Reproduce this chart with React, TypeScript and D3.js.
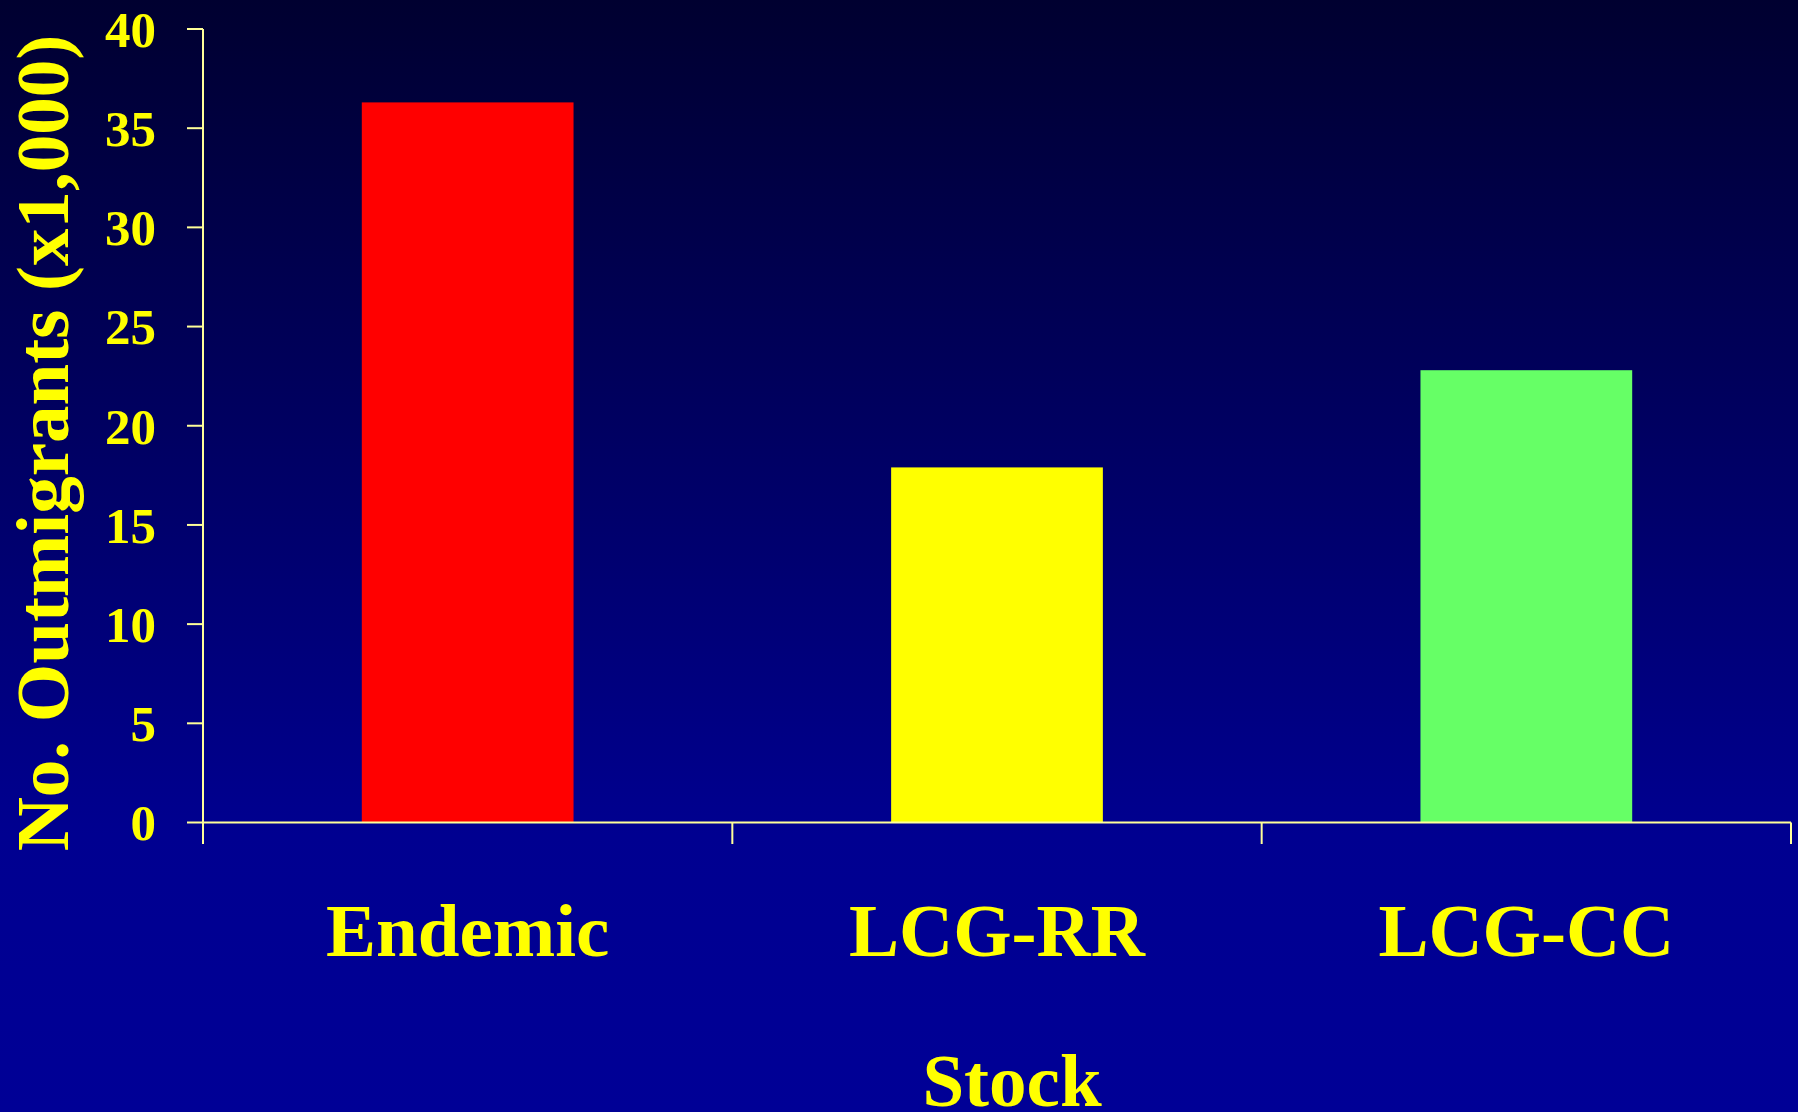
import React from "react";
import * as d3 from "d3";

const categories = ["Endemic", "LCG-RR", "LCG-CC"];
const values = [36.3, 17.9, 22.8];
const barColors = ["#ff0000", "#ffff00", "#66ff66"];
const yTicks = [0, 5, 10, 15, 20, 25, 30, 35, 40];

const W = 1798;
const H = 1112;
const FONT = "'Liberation Serif', 'Times New Roman', serif";

export default function App() {
  const x0 = 203;
  const x1 = 1791;
  const yBase = 822.5;
  const yTop = 29;

  const x = d3
    .scaleBand<string>()
    .domain(categories)
    .range([x0, x1])
    .paddingInner(0.6)
    .paddingOuter(0.3);
  const y = d3.scaleLinear().domain([0, 40]).range([yBase, yTop]);

  const step = (x1 - x0) / categories.length;
  const edges = d3.range(categories.length + 1).map((i) => x0 + i * step);

  return (
    <svg
      width={W}
      height={H}
      style={{ position: "fixed", left: 0, top: 0, display: "block" }}
    >
      <defs>
        <linearGradient id="bg" x1="0" y1="0" x2="0" y2="1">
          <stop offset="0" stopColor="#000030" />
          <stop offset="0.75" stopColor="#000090" />
          <stop offset="1" stopColor="#000096" />
        </linearGradient>
      </defs>
      <rect x={0} y={0} width={W} height={H} fill="url(#bg)" />

      {categories.map((c, i) => (
        <rect
          key={c}
          x={x(c)}
          y={y(values[i])}
          width={x.bandwidth()}
          height={y(0) - y(values[i])}
          fill={barColors[i]}
        />
      ))}

      {/* y axis */}
      <line x1={x0} x2={x0} y1={yTop} y2={844} stroke="#ffff99" strokeWidth={2} />
      {yTicks.map((t) => (
        <g key={t}>
          <line x1={187} x2={x0} y1={y(t)} y2={y(t)} stroke="#ffff99" strokeWidth={2} />
          <text
            x={156}
            y={y(t)}
            dy="0.35em"
            textAnchor="end"
            fill="#ffff00"
            fontFamily={FONT}
            fontWeight="bold"
            fontSize={51}
          >
            {t}
          </text>
        </g>
      ))}

      {/* x axis */}
      <line x1={x0} x2={x1} y1={yBase} y2={yBase} stroke="#ffff99" strokeWidth={2} />
      {edges.map((e, i) => (
        <line key={i} x1={e} x2={e} y1={yBase} y2={844} stroke="#ffff99" strokeWidth={2} />
      ))}
      {categories.map((c) => (
        <text
          key={c}
          x={(x(c) as number) + x.bandwidth() / 2}
          y={956}
          textAnchor="middle"
          fill="#ffff00"
          fontFamily={FONT}
          fontWeight="bold"
          fontSize={75}
        >
          {c}
        </text>
      ))}

      <text
        x={1012}
        y={1106}
        textAnchor="middle"
        fill="#ffff00"
        fontFamily={FONT}
        fontWeight="bold"
        fontSize={75}
      >
        Stock
      </text>

      <text
        transform={`translate(68, 443) rotate(-90)`}
        textAnchor="middle"
        fill="#ffff00"
        fontFamily={FONT}
        fontWeight="bold"
        fontSize={75}
      >
        No. Outmigrants (x1,000)
      </text>
    </svg>
  );
}
